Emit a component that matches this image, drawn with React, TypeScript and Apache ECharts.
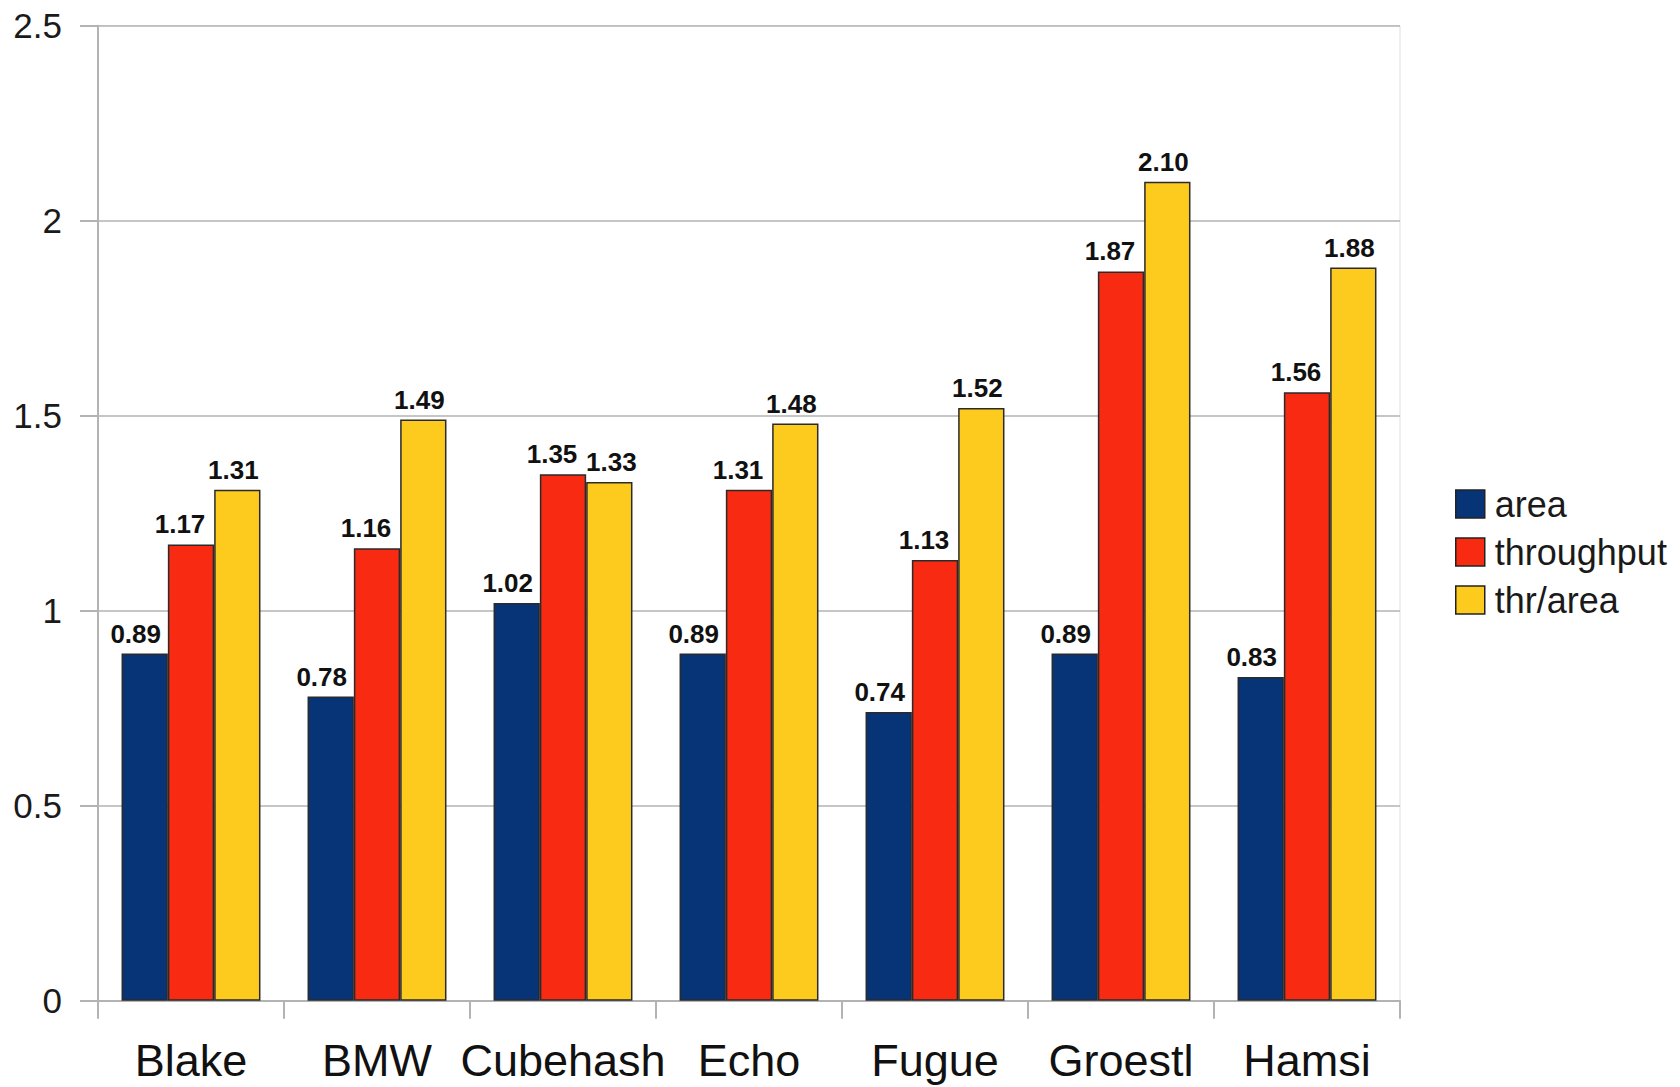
import React, { useEffect, useRef } from "react";
import * as echarts from "echarts";

// Hash function candidates and their normalised metrics
const categories = ["Blake", "BMW", "Cubehash", "Echo", "Fugue", "Groestl", "Hamsi"];
const areaValues = [0.89, 0.78, 1.02, 0.89, 0.74, 0.89, 0.83];
const throughputValues = [1.17, 1.16, 1.35, 1.31, 1.13, 1.87, 1.56];
const thrPerAreaValues = [1.31, 1.49, 1.33, 1.48, 1.52, 2.1, 1.88];

const seriesNames = ["area", "throughput", "thr/area"];
const seriesColors = ["#073476", "#f92a12", "#fccb1e"];
// horizontal nudge of each series' value labels
const labelShifts = [-9, -11, -4];

const FONT = "'Liberation Sans', Arial, sans-serif";
const AXIS_GRAY = "#b3b3b3";

export default function App() {
  const ref = useRef<HTMLDivElement>(null);

  useEffect(() => {
    document.body.style.margin = "0";
    if (!ref.current) return;
    const chart = echarts.init(ref.current, undefined, { renderer: "svg" });

    const labelBase = {
      show: true,
      position: "top",
      distance: 7,
      fontFamily: FONT,
      fontWeight: "bold",
      fontSize: 26,
      color: "#111",
      formatter: (p: any) => Number(p.value).toFixed(2),
    };

    const makeSeries = (name: string, data: any[], color: string, shift: number) => ({
      name,
      type: "bar",
      data,
      barGap: "0%",
      barCategoryGap: "25.3%",
      itemStyle: { color, borderColor: "#2a2a2a", borderWidth: 1.5 },
      label: { ...labelBase, offset: [shift, 0] },
    });

    // thr/area labels that sit level with the throughput label move right to stay clear
    const thrPerAreaData = thrPerAreaValues.map((v, i) =>
      Math.abs(v - throughputValues[i]) < 0.06
        ? { value: v, label: { ...labelBase, offset: [2, 0] } }
        : v
    );

    chart.setOption({
      animation: false,
      backgroundColor: "#ffffff",
      grid: {
        left: 98,
        right: 280,
        top: 25.7,
        bottom: 86.3,
        containLabel: false,
        show: true,
        borderColor: "#dedede",
        borderWidth: 1,
      },
      legend: {
        orient: "vertical",
        left: 1450,
        top: 481,
        itemWidth: 29,
        itemHeight: 28,
        itemGap: 12,
        icon: "rect",
        data: seriesNames,
        itemStyle: { borderColor: "#222", borderWidth: 1.5 },
        textStyle: {
          fontFamily: FONT,
          fontSize: 36,
          color: "#1a1a1a",
          padding: [0, 0, 0, 5],
        },
      },
      xAxis: {
        type: "category",
        data: categories,
        boundaryGap: true,
        axisLine: { show: true, lineStyle: { color: AXIS_GRAY, width: 2 } },
        axisTick: {
          show: true,
          length: 18,
          alignWithLabel: false,
          lineStyle: { color: AXIS_GRAY, width: 2 },
        },
        axisLabel: {
          margin: 37,
          fontFamily: FONT,
          fontSize: 45,
          color: "#111",
          interval: 0,
        },
      },
      yAxis: {
        type: "value",
        min: 0,
        max: 2.5,
        interval: 0.5,
        axisLine: { show: true, lineStyle: { color: AXIS_GRAY, width: 2 } },
        axisTick: { show: true, length: 18, lineStyle: { color: AXIS_GRAY, width: 2 } },
        splitLine: { show: true, lineStyle: { color: AXIS_GRAY, width: 1.5 } },
        axisLabel: {
          margin: 36,
          fontFamily: FONT,
          fontSize: 35,
          color: "#1a1a1a",
          formatter: (v: number) => String(v),
        },
      },
      series: [
        makeSeries(seriesNames[0], areaValues, seriesColors[0], labelShifts[0]),
        makeSeries(seriesNames[1], throughputValues, seriesColors[1], labelShifts[1]),
        makeSeries(seriesNames[2], thrPerAreaData, seriesColors[2], labelShifts[2]),
      ],
    });

    return () => chart.dispose();
  }, []);

  return <div ref={ref} style={{ width: 1680, height: 1087 }} />;
}
